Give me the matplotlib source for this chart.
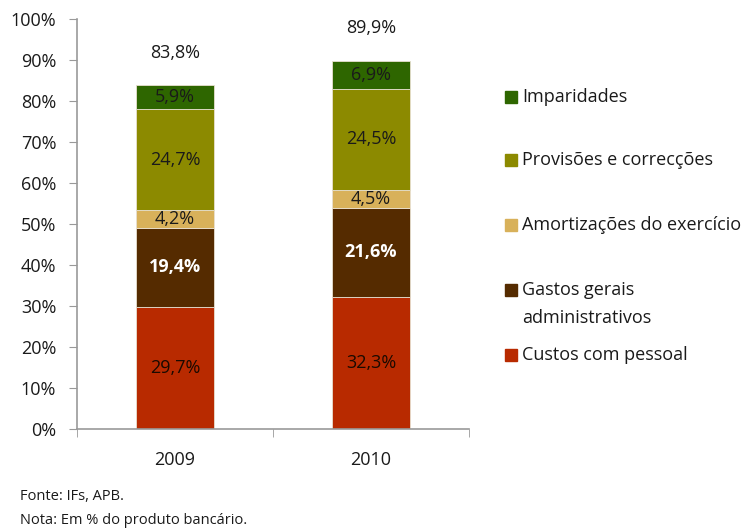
import numpy as np
import matplotlib.pyplot as plt
from matplotlib.patches import Rectangle
from matplotlib.ticker import PercentFormatter

plt.rcParams['font.family'] = ['Open Sans', 'DejaVu Sans']

years = ["2009", "2010"]
series = [
    "Custos com pessoal",
    "Gastos gerais\nadministrativos",
    "Amortizações do exercício",
    "Provisões e correcções",
    "Imparidades",
]
values = {
    "Custos com pessoal": [29.7, 32.3],
    "Gastos gerais\nadministrativos": [19.4, 21.6],
    "Amortizações do exercício": [4.2, 4.5],
    "Provisões e correcções": [24.7, 24.5],
    "Imparidades": [5.9, 6.9],
}
totals = [83.8, 89.9]
colors = ["#B82A00", "#552B00", "#D8B15A", "#8C8A00", "#2E6600"]
label_colors = ["#1a0a00", "white", "#1a1a1a", "#1a1a1a", "#1a1a1a"]


def fmt(v):
    return f"{v:.1f}%".replace(".", ",")


fig = plt.figure(figsize=(7.52, 5.30), dpi=100)
ax = fig.add_axes([0.1024, 0.1906, 0.5213, 0.7736])

x = np.arange(len(years))
bottom = np.zeros(len(years))
for name, c, lc in zip(series, colors, label_colors):
    vals = np.array(values[name])
    ax.bar(x, vals, 0.4, bottom=bottom, color=c, edgecolor="#e8e0d0", linewidth=0.6)
    for xi, b, v in zip(x, bottom, vals):
        ax.text(xi, b + v / 2, fmt(v), ha="center", va="center", fontsize=13,
                color=lc, fontweight="bold" if lc == "white" else "normal")
    bottom += vals

for xi, b, t in zip(x, bottom, totals):
    ax.text(xi, b + 7.9, fmt(t), ha="center", va="center", fontsize=13, color="#1a1a1a")

ax.set_xlim(-0.5, 1.5)
ax.set_ylim(0, 100)
ax.set_yticks(np.arange(0, 101, 10))
ax.yaxis.set_major_formatter(PercentFormatter(decimals=0))
ax.set_xticks(x)
ax.set_xticklabels(years)
ax.set_xticks([-0.5, 0.5, 1.5], minor=True)
ax.tick_params(axis="x", which="major", length=0, pad=16, labelsize=13, labelcolor="#1a1a1a")
ax.tick_params(axis="x", which="minor", length=6, color="#999999")
ax.tick_params(axis="y", length=6, pad=9, color="#999999", labelsize=13, labelcolor="#1a1a1a")
for s in ["top", "right"]:
    ax.spines[s].set_visible(False)
for s in ["left", "bottom"]:
    ax.spines[s].set_color("#999999")
    ax.spines[s].set_linewidth(1.2)

# legend drawn by hand, entries in reference order (top to bottom)
W, H = 752, 530
leg_rows = [97, 160, 225, 290, 355]
for name, c, yp in zip(series[::-1], colors[::-1], leg_rows):
    fig.add_artist(Rectangle(((505) / W, 1 - (yp + 6) / H), 12 / W, 12 / H,
                             transform=fig.transFigure, color=c))
    for i, line in enumerate(name.split("\n")):
        fig.text(522 / W, 1 - (yp + i * 28) / H, line, ha="left", va="center",
                 fontsize=13, color="#1a1a1a", transform=fig.transFigure)

fig.text(20 / W, 1 - 497 / H, "Fonte: IFs, APB.", fontsize=10.5, va="center", color="#1a1a1a")
fig.text(20 / W, 1 - 520 / H, "Nota: Em % do produto bancário.", fontsize=10.5, va="center",
         color="#1a1a1a")

fig.savefig("out.png", dpi=100)
